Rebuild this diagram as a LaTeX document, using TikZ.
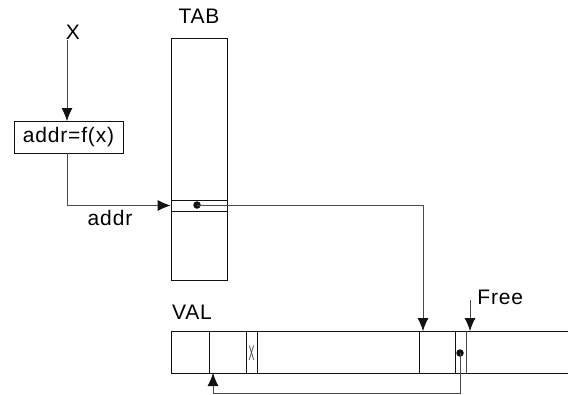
\documentclass[tikz,border=0pt]{standalone}
\usepackage{fontspec}
\setmainfont[LetterSpace=4]{Liberation Sans}
\usepackage{tikz}
\usetikzlibrary{positioning,arrows.meta}
\definecolor{ink}{HTML}{111111}
\definecolor{wire}{HTML}{4A4A4A}

\begin{document}
\begin{tikzpicture}[x=1pt,y=-1pt,line width=0.8pt,
    lbl/.style={inner sep=0pt,font=\fontsize{21}{23}\selectfont},
    cell/.style={draw=ink,inner sep=0pt},
    ptr/.style={draw=wire,-{Latex[length=13pt,width=11pt,color=ink]}},
    dot/.style={circle,fill=ink,inner sep=0pt,minimum size=7.5pt}]
    \useasboundingbox (0,0) rectangle (568,394);
    \node[lbl] (x) at (73,32) {X};
    \node[cell,minimum width=109pt,minimum height=32pt,lbl,draw=ink] (f) at (68.5,137) {addr=f(x)};
    \node[cell,minimum width=56pt,minimum height=242pt] (tab) at (199,159) {};
    \node[lbl,above=14pt of tab] (tabl) {TAB};
    \node[cell,minimum width=56pt,minimum height=11pt] (slot) at (199,205.5) {};
    \node[dot] (d1) at (197,205) {};
    \node[lbl] (al) at (110,218) {addr};
    % value area, open on the right
    \coordinate (v1) at (568,331); \coordinate (v2) at (568,373);
    \draw[ink] (v1) -| (171,373) -- (v2);
    \node[lbl] (vall) at (192,312) {VAL};
    \draw[ink] (209,331)--(209,373); \draw[ink] (246,331)--(246,373); \draw[ink] (257,331)--(257,373);
    \draw[ink] (419,331)--(419,373); \draw[ink] (455,331)--(455,373); \draw[wire] (466,331)--(466,373);
    \node[lbl,xscale=0.42,text=wire] (sx) at (251.5,353) {X};
    \node[dot] (d2) at (460,353) {};
    \coordinate (c1) at (423,331); \coordinate (c2) at (213,373);
    \coordinate (fr0) at (470,300); \coordinate (fr) at (470,331);
    \node[lbl,anchor=west] (free) at (477,297) {Free};
    \draw[ptr] (x.south -| 67,0)--(67,121); \draw[ptr] (f.south -| 67,0) |- (slot.west);
    \draw[ptr] (d1.center) -| (c1); \draw[ptr] (fr0)--(fr);
    \draw[ptr] (d2.center) |- (213,393) -- (c2);
  \end{tikzpicture}
\end{document}
